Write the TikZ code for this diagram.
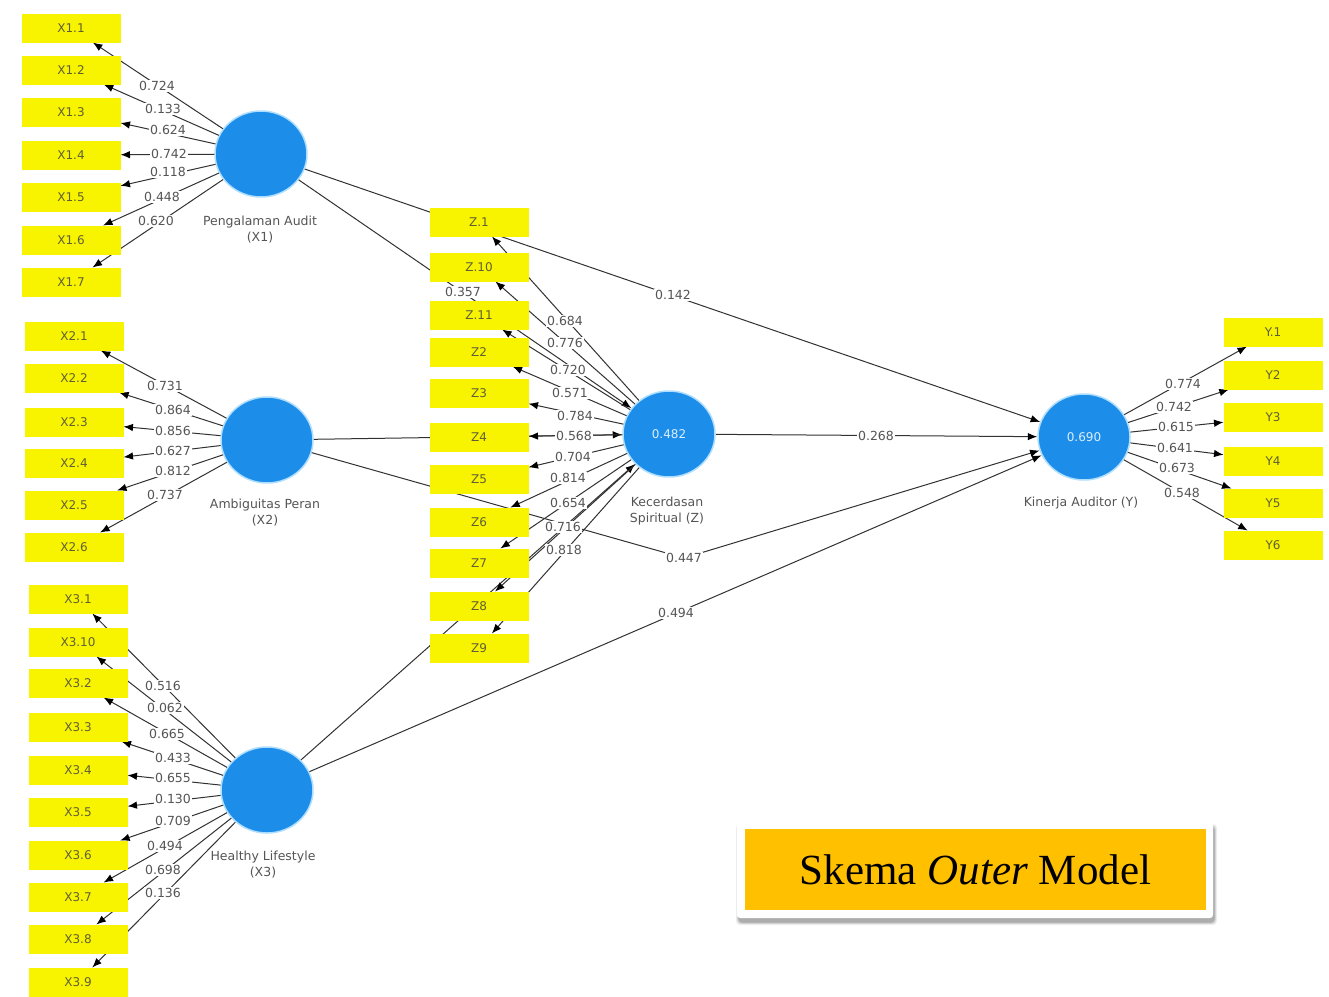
\documentclass[tikz,border=0pt]{standalone}
\usepackage{fontspec}
\setmainfont{DejaVu Sans}
\newfontfamily\titlefont{Liberation Serif}
\usetikzlibrary{arrows.meta,shapes.geometric,calc}
\definecolor{ind}{RGB}{248,244,0}
\definecolor{lat}{RGB}{28,142,234}
\definecolor{glow}{RGB}{175,222,255}
\definecolor{ln}{RGB}{50,50,50}
\definecolor{lbl}{RGB}{85,85,85}
\definecolor{boxtxt}{RGB}{95,95,55}
\definecolor{gold}{RGB}{255,192,0}
\begin{document}
\begin{tikzpicture}[x=1pt,y=-1pt,
  indshape/.style={rectangle, minimum width=99pt, minimum height=29pt, inner sep=0pt, outer sep=0pt},
  indbox/.style={indshape, fill=ind, font=\fontsize{12}{14}\selectfont, text=boxtxt},
  latent/.style={ellipse, fill=lat, draw=glow, line width=1.5pt, minimum width=92pt, minimum height=86pt, inner sep=0pt, font=\fontsize{12}{14}\selectfont, text=white!85!lat},
  lvcaption/.style={font=\fontsize{12.5}{16}\selectfont, text=lbl, align=center},
  wt/.style={fill=white, inner sep=0.8pt, font=\fontsize{12.5}{14}\selectfont, text=lbl},
  conn/.style={draw=ln, line width=1pt, -{Latex[length=9.5pt,width=7.5pt,color=black]}},
]
\fill[white] (0,0) rectangle (1329,996);
\useasboundingbox (0,0) rectangle (1329,996);

% latent variables
\node[latent] (X1) at (261,154) {};
\node[latent] (X2) at (267,440) {};
\node[latent] (X3) at (267,790) {};
\node[latent] (Z) at (669,434) {0.482};
\node[latent] (Y) at (1084,437) {0.690};

\node[lvcaption] (cX1) at (260,230) {Pengalaman Audit\\(X1)};
\node[lvcaption] (cX2) at (265,513) {Ambiguitas Peran\\(X2)};
\node[lvcaption] (cX3) at (263,865) {Healthy Lifestyle\\(X3)};
\node[lvcaption] (cZ) at (667,511) {Kecerdasan\\Spiritual (Z)};
\node[lvcaption] (cY) at (1081,503) {Kinerja Auditor (Y)};

% indicator anchors (shapes only)
\foreach \n/\xx/\yy in {x11/71/28, x12/71/70, x13/71/112, x14/71/155, x15/71/197, x16/71/240, x17/71/282,
  x21/74/336, x22/74/378, x23/74/422, x24/74/463, x25/74/505, x26/74/547,
  x31/78/599, x310/78/642, x32/78/683, x33/78/727, x34/78/770, x35/78/812, x36/78/855, x37/78/897, x38/78/939, x39/78/982,
  z1/479/222, z10/479/267, z11/479/315, z2/479/352, z3/479/393, z4/479/437, z5/479/479, z6/479/522, z7/479/563, z8/479/606, z9/479/648,
  y1/1273/332, y2/1273/375, y3/1273/417, y4/1273/461, y5/1273/503, y6/1273/545}
  \node[indshape] (\n) at (\xx,\yy) {};

% inner model
\coordinate (bnd) at (684,558);
\draw[conn] (X1) -- (Z);
\draw[conn] (X1) -- (Y);
\draw[conn] (X2) -- (Z);
\draw[conn] (X2) -- (bnd) -- (Y);
\draw[conn] (X3) -- (Z);
\draw[conn] (X3) -- (Y);
\draw[conn] (Z) -- (Y);

% outer model loadings: connectors
\foreach \s/\t in {X1/x11, X1/x12, X1/x13, X1/x14, X1/x15, X1/x16, X1/x17,
  X2/x21, X2/x22, X2/x23, X2/x24, X2/x25, X2/x26,
  X3/x31, X3/x310, X3/x32, X3/x33, X3/x34, X3/x35, X3/x36, X3/x37, X3/x38, X3/x39,
  Z/z1, Z/z10, Z/z11, Z/z2, Z/z3, Z/z4, Z/z5, Z/z6, Z/z7, Z/z8, Z/z9,
  Y/y1, Y/y2, Y/y3, Y/y4, Y/y5, Y/y6}
  \draw[conn] (\s) -- (\t);

% indicator boxes on top of the connectors
\foreach \n/\t in {x11/X1.1, x12/X1.2, x13/X1.3, x14/X1.4, x15/X1.5, x16/X1.6, x17/X1.7,
  x21/X2.1, x22/X2.2, x23/X2.3, x24/X2.4, x25/X2.5, x26/X2.6,
  x31/X3.1, x310/X3.10, x32/X3.2, x33/X3.3, x34/X3.4, x35/X3.5, x36/X3.6, x37/X3.7, x38/X3.8, x39/X3.9,
  z1/Z.1, z10/Z.10, z11/Z.11, z2/Z2, z3/Z3, z4/Z4, z5/Z5, z6/Z6, z7/Z7, z8/Z8, z9/Z9,
  y1/Y.1, y2/Y2, y3/Y3, y4/Y4, y5/Y5, y6/Y6}
  \node[indbox] (t\n) at (\n) {\t};

% path coefficient labels
\node[wt] (l1) at (463,292) {0.357};
\node[wt] (l2) at (673,295) {0.142};
\node[wt] (l3) at (876,436) {0.268};
\node[wt] (l4) at (bnd) {0.447};
\node[wt] (l5) at (676,613) {0.494};

% loading labels
\foreach \n/\v/\lx/\ly in {
  a1/0.724/157/86, a2/0.133/163/109, a3/0.624/168/130, a4/0.742/169/154, a5/0.118/168/172, a6/0.448/162/197, a7/0.620/156/221,
  b1/0.731/165/386, b2/0.864/173/410, b3/0.856/173/431, b4/0.627/173/451, b5/0.812/173/471, b6/0.737/165/495,
  c1/0.516/163/686, c2/0.062/165/708, c3/0.665/167/734, c4/0.433/173/758, c5/0.655/173/778, c6/0.130/173/799, c7/0.709/173/821, c8/0.494/165/846, c9/0.698/163/870, c10/0.136/163/893,
  d1/0.684/565/321, d2/0.776/565/343, d3/0.720/568/370, d4/0.571/570/393, d5/0.784/575/416, d6/0.568/574/436, d7/0.704/573/457, d8/0.814/568/478, d9/0.654/568/503, d10/0.716/563/527, d11/0.818/564/550,
  e1/0.774/1183/384, e2/0.742/1174/407, e3/0.615/1176/427, e4/0.641/1175/448, e5/0.673/1177/468, e6/0.548/1182/493}
  \node[wt] (\n) at (\lx,\ly) {\v};

% title with a soft shadow
\foreach \k/\c in {5/6, 4/10, 3/16, 2/24, 1/32}
  \fill[black!\c, rounded corners=4pt] (738+1-\k*0.6,823+4-\k*0.6) rectangle (1213+1+\k*0.6,918+4+\k*0.6);
\node[fill=white, rounded corners=3pt, minimum width=476pt, minimum height=96pt] (tb) at (975,870) {};
\node[fill=gold, minimum width=461pt, minimum height=81pt, inner sep=0pt,
      font=\titlefont\fontsize{43}{50}\selectfont] (title) at (975.5,869.5) {Skema \textit{Outer} Model};
\end{tikzpicture}
\end{document}
